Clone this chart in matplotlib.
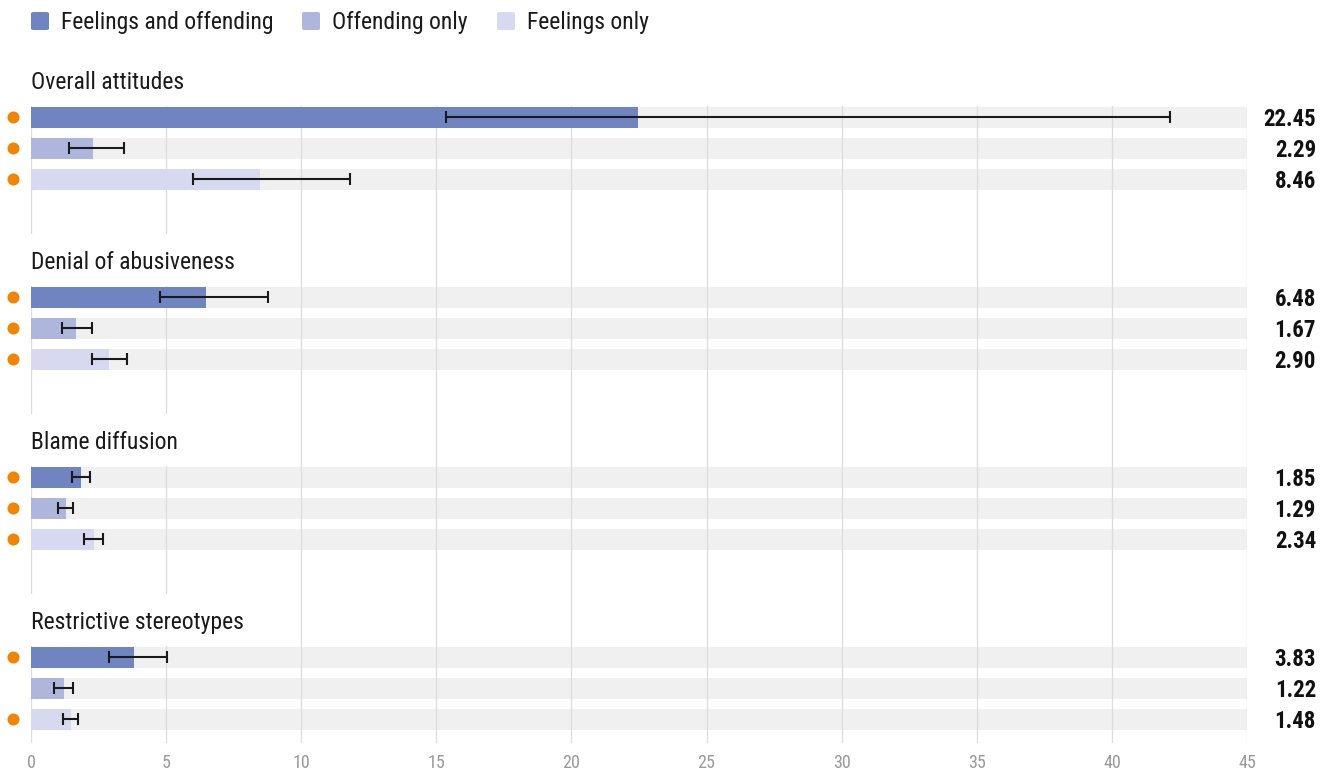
import matplotlib
matplotlib.use("Agg")
import matplotlib.pyplot as plt
import matplotlib.transforms as mtransforms
from matplotlib import font_manager
from matplotlib.patches import FancyBboxPatch, Rectangle

# ---- data ----
groups = ["Overall attitudes", "Denial of abusiveness", "Blame diffusion", "Restrictive stereotypes"]
series = ["Feelings and offending", "Offending only", "Feelings only"]
values = [
    [22.45, 2.29, 8.46],
    [6.48, 1.67, 2.90],
    [1.85, 1.29, 2.34],
    [3.83, 1.22, 1.48],
]
ci_low = [
    [15.36, 1.41, 6.00],
    [4.77, 1.15, 2.26],
    [1.51, 0.99, 1.96],
    [2.87, 0.86, 1.17],
]
ci_high = [
    [42.15, 3.44, 11.80],
    [8.77, 2.26, 3.55],
    [2.19, 1.57, 2.65],
    [5.02, 1.54, 1.75],
]
significant = [
    [True, True, True],
    [True, True, True],
    [True, True, True],
    [True, False, True],
]
xticks = [0, 5, 10, 15, 20, 25, 30, 35, 40, 45]
value_labels = [[f"{v:.2f}" for v in row] for row in values]

colors = ["#6f84c0", "#aeb6de", "#d6d9ef"]
band_color = "#f0f0f0"
grid_color = "#dcdcdc"
dot_color = "#f28500"

# ---- fonts ----
avail = {f.name for f in font_manager.fontManager.ttflist}
fam = [f for f in ["Roboto Condensed", "Liberation Sans Narrow", "Roboto", "DejaVu Sans"] if f in avail]
plt.rcParams["font.family"] = fam

W, H = 1330, 771
DPI = 100
fig = plt.figure(figsize=(W / DPI, H / DPI), dpi=DPI)

# layout in pixel space
ax_left, ax_right, ax_top, ax_bottom = 31, 1247, 106, 743
ax = fig.add_axes([ax_left / W, 1 - ax_bottom / H, (ax_right - ax_left) / W, (ax_bottom - ax_top) / H])
ax.set_xlim(0, 45)
ax.set_ylim(ax_bottom, ax_top)

first_center = 117
group_pitch = 180
row_pitch = 31
bar_h = 21
text_shift = 2.5
title_gap = 53

px_y = mtransforms.blended_transform_factory(fig.dpi_scale_trans, ax.transData)

titles = []
for g, gname in enumerate(groups):
    for r in range(3):
        y = first_center + g * group_pitch + r * row_pitch
        ax.barh(y, 45, height=bar_h, color=band_color, zorder=0.2)
        ax.barh(y, values[g][r], height=bar_h, color=colors[r], zorder=2)
        v = values[g][r]
        ax.errorbar(v, y, xerr=[[v - ci_low[g][r]], [ci_high[g][r] - v]], fmt="none",
                    ecolor="#1a1a1a", elinewidth=1.5, capsize=4.5, capthick=1.5, zorder=3)
        ax.text(1316 / DPI, y + text_shift, value_labels[g][r], transform=px_y,
                ha="right", va="center", fontsize=16.5, fontweight="bold", color="#111111", clip_on=False)
        if significant[g][r]:
            ax.scatter([13 / DPI], [y], s=75, color=dot_color, zorder=4, clip_on=False,
                       transform=px_y, linewidths=0)
    ty = first_center + g * group_pitch - 37 + text_shift
    t = ax.text(0, ty, gname, ha="left", va="center", fontsize=17, color="#1a1a1a", zorder=5, clip_on=False)
    titles.append((g, t))

ax.set_xticks(xticks)
ax.set_xticklabels([str(t) for t in xticks])
ax.tick_params(axis="x", length=0, labelsize=13, labelcolor="#999999", pad=8)
ax.set_yticks([])
ax.set_axisbelow(True)
ax.grid(axis="x", color=grid_color, linewidth=0.9)
for s in ax.spines.values():
    s.set_visible(False)

# white blocks behind group titles (mask the gridlines)
fig.canvas.draw()
renderer = fig.canvas.get_renderer()
inv = ax.transData.inverted()
for g, t in titles:
    ext = t.get_window_extent(renderer)
    right = inv.transform((ext.x1 + 12, ext.y0))[0]
    band_top = first_center + g * group_pitch - bar_h / 2
    ax.add_patch(Rectangle((-0.5, band_top - title_gap), right + 0.5, title_gap - 0.5,
                           facecolor="white", edgecolor="none", zorder=0.7, clip_on=False))

# legend
leg_x = [31, 302, 497]
for i, name in enumerate(series):
    x0 = leg_x[i]
    box = FancyBboxPatch((x0 / W, 1 - 30 / H), 18 / W, 18 / H, boxstyle="round,pad=0,rounding_size=0.002",
                         transform=fig.transFigure, facecolor=colors[i], edgecolor="none")
    fig.patches.append(box)
    fig.text((x0 + 30) / W, 1 - 23 / H, name, ha="left", va="center", fontsize=17, color="#1a1a1a")

fig.savefig("out.png", dpi=DPI)
